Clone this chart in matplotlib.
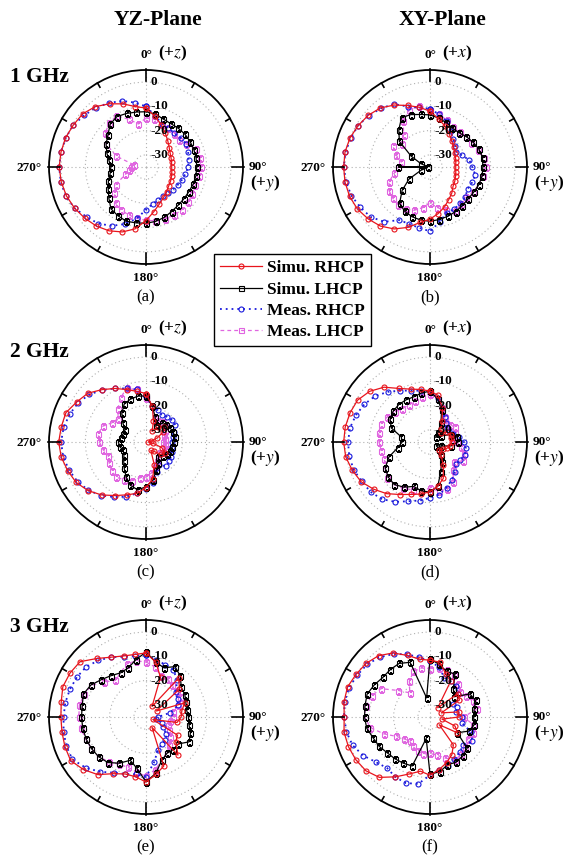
import numpy as np
import matplotlib
matplotlib.use('Agg')
import matplotlib.pyplot as plt

plt.rcParams['font.family'] = ['Liberation Serif', 'DejaVu Serif']
plt.rcParams['mathtext.fontset'] = 'stix'

# sample angles (deg, clockwise from 0 deg at top), one every 10 deg
angles_deg = list(range(0, 360, 10))

# (a) YZ-plane, 1 GHz, gain in dB
a_simu_rhcp = [-10.7, -13.8, -16.5, -19, -21, -22.5, -23.5, -24, -24.3, -24.4, -24.2, -23.8,
               -23.3, -22.8, -21.8, -20.5, -18.8, -16.3, -12.9, -9.1, -6.5, -4.6, -3.2, -2.1,
               -1.0, -0.1, 0.5, 0.8, 0.6, 0.3, -0.4, -0.9, -2.5, -4.9, -7.3, -9.7]
a_simu_lhcp = [-12.2, -12.8, -14, -14.4, -14.2, -14, -14, -14, -14, -14.1, -14.1, -14.3,
               -14.6, -14.6, -14.4, -13.8, -12.9, -12.2, -11.8, -11.6, -11.2, -11.8, -12.5, -15,
               -17, -18.5, -20, -20.5, -19.5, -17.8, -16, -14.5, -12, -11, -11.5, -12]
a_meas_rhcp = [-10, -13.5, -16, -16.5, -16.8, -16.3, -16, -16.5, -17.2, -17.6, -18.5, -19.3,
               -20, -20.5, -21, -21, -20.5, -19.5, -17.4, -13.5, -10, -7, -4.5, -3,
               -1, 0.2, 0.7, 0.8, 0.6, 0.2, -0.4, -1.8, -3, -4.5, -6, -8]
a_meas_lhcp = [-14.8, -15, -16, -16.5, -17, -17.5, -16, -13, -12.5, -12.5, -13, -13.3,
               -13, -12.3, -12, -12, -12.3, -12.5, -13, -13.5, -14, -14.5, -15.5, -18,
               -20.5, -26, -28, -29, -30, -22, -16, -13, -11.5, -10.6, -14, -17]

# (b) XY-plane, 1 GHz
b_simu_rhcp = [-12, -14.8, -17, -19.2, -21, -22.3, -23.2, -23.8, -24.2, -24.4, -24.2, -23.8,
               -23.2, -22.6, -21, -19.5, -17.5, -15.5, -13.5, -11.8, -8.5, -5.5, -3.2, -1.7,
               -0.4, 0.3, 0.6, 0.6, 0.6, 0.1, -0.8, -1.8, -3.2, -5.5, -8, -10]
b_simu_lhcp = [-13.5, -14.5, -15.5, -16.5, -16.5, -15.5, -14.5, -13.5, -13, -13.2, -13.2, -13.6,
               -14.2, -14.5, -14.2, -13.8, -13.4, -13, -12.6, -12.8, -13.2, -14, -15.5, -20,
               -25, -31, -34, -22, -34, -31, -26, -18.5, -15, -11.5, -12, -13]
b_meas_rhcp = [-11, -13, -15, -18, -20, -21.5, -22.5, -21, -18.5, -17.6, -16, -16.5,
               -17, -16, -15.5, -15, -14.9, -12, -8.5, -9.5, -10, -9.7, -5.5, -3,
               -1.8, -0.5, 0.2, 0.6, 0.4, -0.2, -0.8, -2, -3.5, -5, -8.5, -10]
b_meas_lhcp = [-11.4, -13, -14.5, -16, -16, -15.5, -15.3, -14, -12.5, -12, -13, -13.6,
               -14.5, -15.5, -15, -14.1, -16, -18, -20.2, -18, -16, -15, -14.5, -15,
               -15.5, -17, -20, -22, -23, -20, -17.3, -20, -18, -13, -10, -9.5]

# (c) YZ-plane, 2 GHz
c_simu_rhcp = [-15, -20, -26, -30, -27, -25.5, -27, -30, -33, -34, -32, -28,
               -26, -27, -30, -31, -25, -19.5, -16.2, -13.5, -11.8, -9.5, -6.5, -3.8,
               -1.7, -0.6, 0.5, 1, 0.5, 0.2, -2, -3.7, -6.8, -9.5, -12, -13.8]
c_simu_lhcp = [-16, -20, -24, -27, -25, -24, -23.5, -23, -23, -23.5, -24, -24.5,
               -25, -26, -27, -25, -22.5, -19, -16.5, -15, -16, -18.5, -21, -23,
               -24.5, -25, -24, -23.6, -24.5, -25, -25, -22.5, -19.5, -17, -16.2, -15.8]
c_meas_rhcp = [-16, -20, -21, -22, -21.5, -21, -21, -22.5, -23.5, -24.3, -24, -23.5,
               -23, -22.5, -22, -24, -22, -18, -15.8, -13.5, -11, -8.8, -6.2, -4,
               -2.4, -1.2, -0.3, 0, -0.5, -1.5, -2.7, -4.5, -7, -9.5, -11.5, -13]
c_meas_lhcp = [-17, -20, -24.5, -25, -24, -25, -26, -27, -27, -28, -27, -26,
               -27, -28, -27, -26, -24, -22, -20.6, -20, -18, -17, -16, -16.5,
               -17.5, -18.5, -17, -15.8, -15, -16, -19, -20, -17, -14, -11.5, -13]

# (d) XY-plane, 2 GHz
d_simu_rhcp = [-14, -15.5, -20, -25, -28, -29, -27, -26, -26, -26, -26.5, -27.5,
               -29, -30, -28, -24, -19, -16.5, -14.5, -13.2, -12, -10, -7.2, -4.7,
               -2.2, -0.9, 0.3, 0.6, 0.5, 0.1, -0.5, -2.5, -5.5, -9.5, -11.8, -13]
d_simu_lhcp = [-14, -17, -21, -26, -30, -32, -30, -26, -23.5, -23.5, -26, -30,
               -32, -30, -28, -25.5, -22, -16.5, -14.4, -14.5, -15.5, -13.5, -12.1, -12.5,
               -13.7, -17, -21.5, -23.5, -23, -18, -16, -15.2, -14.9, -15, -15.2, -14.5]
d_meas_rhcp = [-14, -16.5, -20, -23, -25, -26, -26, -25, -23, -21, -20, -19.7,
               -20.5, -21, -19, -17, -15, -13, -12, -10.5, -9, -6.5, -4.2, -3,
               -2.5, -1.5, -1.2, -1.2, -1.5, -2.5, -3.8, -5.5, -8, -10.5, -12.5, -13.5]
d_meas_lhcp = [-15, -17, -20, -23, -25, -24, -23, -24, -25, -24, -22, -20,
               -19.5, -22, -20, -16, -14.2, -14.5, -16, -14.6, -14, -13, -12, -12,
               -13.5, -15, -14.5, -14, -13.5, -13.4, -14.5, -16, -17, -17.4, -17, -16]

# (e) YZ-plane, 3 GHz
e_simu_rhcp = [-8.6, -12, -17.5, -30, -14, -17, -30, -18, -20, -20.5, -22, -32,
               -20, -19, -14.5, -30, -13.5, -11, -8.2, -10, -10, -8, -4, -1.3,
               0.9, 0.6, 0.2, 0.1, 0.5, 1.5, 1.2, 0.5, -3.5, -6.5, -8.2, -8.8]
e_simu_lhcp = [-8.2, -12, -13.4, -11, -13, -16, -16.5, -17.5, -18, -17.5, -17, -15.5,
               -14.5, -17.7, -17.5, -17.7, -16, -11.5, -8.2, -13.5, -16, -13, -10.5, -9.5,
               -9, -8.7, -8.5, -8.4, -8.3, -7.5, -8.7, -11, -12.7, -14, -13.5, -11]
e_meas_rhcp = [-9.6, -11, -12, -12.5, -15, -19, -20, -21, -25, -30, -31, -28,
               -27, -24, -22.5, -22, -20.5, -16, -10.3, -11, -10, -8.5, -5.5, -2.5,
               0, 0, -0.5, -1, -1.2, -1.6, -2.1, -2.8, -4.5, -6.5, -8.5, -9.4]
e_meas_lhcp = [-12.3, -14, -17, -17, -18, -18.5, -18.6, -21, -23.5, -24, -25, -25.4,
               -24, -22, -20, -18, -16, -13, -10.5, -12, -13, -12.5, -11, -9.5,
               -9, -8.5, -7.8, -7.3, -7.1, -7.8, -9, -12.5, -15.3, -14, -11.7, -11.5]

# (f) XY-plane, 3 GHz
f_simu_rhcp = [-11.6, -12, -16, -18, -30, -20, -21, -30, -23, -23, -30, -24,
               -22, -30, -20, -17, -15, -13, -11, -12.3, -10, -6.5, -2.5, -0.5,
               0.3, 0.8, 1, 0.4, 1, 1.2, 0.2, -0.6, -2, -4.5, -8, -10.8]
f_simu_lhcp = [-11, -13, -15, -14.5, -20, -22, -16, -15, -16.5, -17, -16.5, -18,
               -22, -15, -14, -13.5, -14, -12, -11.5, -26, -13.5, -13, -12.5, -12,
               -10.8, -10, -8.5, -8, -7.8, -7.4, -8.5, -9.6, -9.5, -9.5, -11, -27]
f_meas_rhcp = [-12, -14, -17.7, -18, -18.5, -20, -24, -23, -24, -22, -21.8, -17,
               -14.8, -17, -16, -15, -13.6, -13, -11, -7, -6, -6.4, -7.5, -6,
               -3.2, -1, 0, 0.4, 0.8, 0.5, -0.4, -1.2, -2.8, -5, -7.5, -10]
f_meas_lhcp = [-15, -14.5, -14.3, -15, -17, -19, -18, -16, -15.5, -21, -17, -16,
               -17, -16, -15, -14.4, -17, -19, -20, -19.5, -20, -21, -22, -21,
               -19, -14.7, -10, -8.1, -8, -9.5, -11.6, -18, -22, -18, -15, -14.5]

ring_values = [0, -10, -20, -30]
ring_labels = ['0', '-10', '-20', '-30']
col_titles = ['YZ-Plane', 'XY-Plane']
row_titles = ['1 GHz', '2 GHz', '3 GHz']
top_axis = ['z', 'x']
panel_tags = ['(a)', '(b)', '(c)', '(d)', '(e)', '(f)']
legend_labels = ['Simu. RHCP', 'Simu. LHCP', 'Meas. RHCP', 'Meas. LHCP']

panel_data = [
    (a_simu_rhcp, a_simu_lhcp, a_meas_rhcp, a_meas_lhcp),
    (b_simu_rhcp, b_simu_lhcp, b_meas_rhcp, b_meas_lhcp),
    (c_simu_rhcp, c_simu_lhcp, c_meas_rhcp, c_meas_lhcp),
    (d_simu_rhcp, d_simu_lhcp, d_meas_rhcp, d_meas_lhcp),
    (e_simu_rhcp, e_simu_lhcp, e_meas_rhcp, e_meas_lhcp),
    (f_simu_rhcp, f_simu_lhcp, f_meas_rhcp, f_meas_lhcp),
]

W, H = 566, 860
R = 97
col_x = [146, 430]
row_y = [167, 442, 717]

fig = plt.figure(figsize=(W / 100, H / 100), dpi=100)


def ftext(x, y, s, **kw):
    # place text using pixel coordinates measured from the top-left corner
    fig.text(x / W, 1 - y / H, s, **kw)


def closed(vals):
    return list(vals) + [vals[0]]


theta = np.deg2rad(closed(angles_deg))
styles = [
    dict(color='#e8141c', ls='-', marker='o', lw=0.9),
    dict(color='black', ls='-', marker='s', lw=0.9),
    dict(color='#1a1adc', ls=(0, (1, 2.2)), marker='o', lw=1.3),
    dict(color='#e066e0', ls=(0, (3, 2.5)), marker='s', lw=0.9),
]
draw_order = [3, 2, 1, 0]
handles = None

for i, series in enumerate(panel_data):
    row, col = divmod(i, 2)
    cx, cy = col_x[col], row_y[row]
    ax = fig.add_axes([(cx - R) / W, 1 - (cy + R) / H, 2 * R / W, 2 * R / H],
                      projection='polar')
    ax.set_theta_zero_location('N')
    ax.set_theta_direction(-1)
    ax.set_ylim(-35, 5)
    ax.set_thetagrids([0, 90, 180, 270], labels=[''] * 4)
    ax.set_rgrids(ring_values, labels=[''] * 4)
    ax.grid(True, color='#b0b0b0', linestyle=(0, (1, 2.5)), linewidth=0.8)
    ax.spines['polar'].set_linewidth(1.3)
    ax.tick_params(length=0)

    lines = [None] * 4
    for k in draw_order:
        st = styles[k]
        lines[k], = ax.plot(theta, closed(series[k]), color=st['color'], ls=st['ls'],
                            lw=st['lw'], marker=st['marker'], ms=3.6, mew=0.8,
                            mfc='none', mec=st['color'])
    if handles is None:
        handles = lines

    # outer ticks every 30 deg, longer ones on the main axes
    for a in range(0, 360, 30):
        r0 = 0.5 if a % 90 == 0 else 3.0
        r1 = 5.6 if a % 90 == 0 else 5.0
        ax.plot([np.deg2rad(a)] * 2, [r0, r1], color='black', lw=1.2, clip_on=False)

    for rv, lab in zip(ring_values, ring_labels):
        ax.annotate(lab, xy=(0, rv), xytext=(3.5, 0), textcoords='offset points',
                    ha='left', va='center', fontsize=9.5, fontweight='bold')

    ftext(cx, cy - 112, '0°', ha='center', va='center', fontsize=9.5, fontweight='bold')
    ftext(cx + 27, cy - 114, '(+$\\mathit{' + top_axis[col] + '}$)', ha='center',
          va='center', fontsize=12.5, fontweight='bold')
    ftext(cx - 117, cy + 1, '270°', ha='center', va='center', fontsize=9.5,
          fontweight='bold')
    ftext(cx + 112, cy, '90°', ha='center', va='center', fontsize=9.5, fontweight='bold')
    ftext(cx + 119, cy + 16, '(+$\\mathit{y}$)', ha='center', va='center',
          fontsize=12.5, fontweight='bold')
    ftext(cx, cy + 111, '180°', ha='center', va='center', fontsize=9.5,
          fontweight='bold')
    ftext(cx, cy + 130, panel_tags[i], ha='center', va='center', fontsize=12)

for col, title in enumerate(col_titles):
    ftext(col_x[col] + 12, 20, title, ha='center', va='center', fontsize=15.5,
          fontweight='bold')
for row, title in enumerate(row_titles):
    ftext(39, row_y[row] - 90, title, ha='center', va='center', fontsize=15.5,
          fontweight='bold')

leg = fig.legend(handles, legend_labels, loc='upper left',
                 bbox_to_anchor=(214 / W, 1 - 254 / H), frameon=True, fancybox=False,
                 edgecolor='black', framealpha=1, borderaxespad=0, borderpad=0.35,
                 handlelength=2.4, handletextpad=0.3, labelspacing=0.3,
                 prop={'weight': 'bold', 'size': 12.5})
leg.get_frame().set_linewidth(1.0)

fig.savefig('out.png', dpi=100)
